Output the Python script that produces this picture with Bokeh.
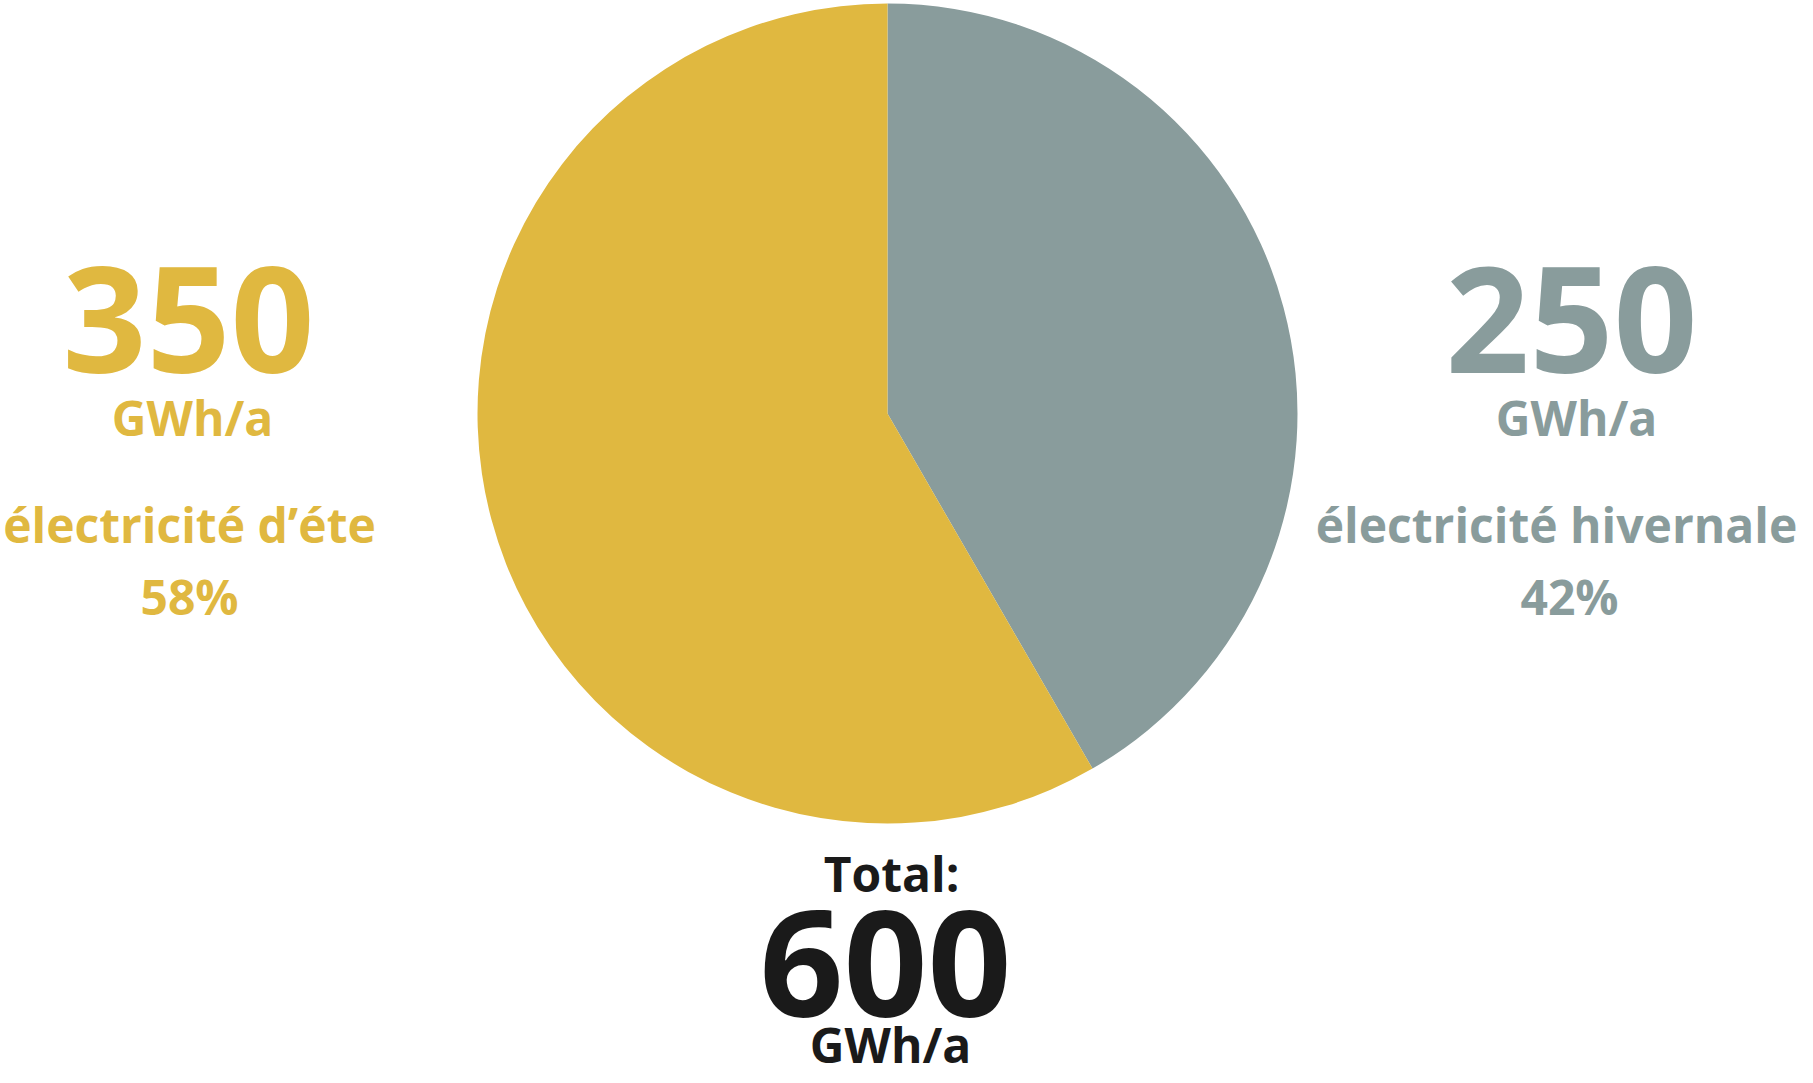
import math
from bokeh.plotting import figure
from bokeh.models import Range1d
from bokeh.core.properties import value
from bokeh.embed import file_html
from bokeh.resources import INLINE

categories = ["électricité hivernale", "électricité d’éte"]
values_gwh = [250, 350]
percent_labels = ["42%", "58%"]
value_labels = ["250", "350"]
unit_label = "GWh/a"
total_title = "Total:"
colors = ["#899C9C", "#E0B840"]

W, H = 1797, 1067
p = figure(width=W, height=H, x_range=Range1d(0, W), y_range=Range1d(0, H),
           output_backend="svg", toolbar_location=None, min_border=0)
p.axis.visible = False
p.grid.visible = False
p.outline_line_color = None
p.background_fill_color = "white"
p.border_fill_color = "white"

def sy(Y):
    return H - Y

cx, cy, r = 887, sy(413), 410
total = sum(values_gwh)
cum = 0.0
starts, ends = [], []
for v in values_gwh:
    a0 = cum / total
    cum += v
    a1 = cum / total
    starts.append(math.radians(90 - a1 * 360))
    ends.append(math.radians(90 - a0 * 360))

p.wedge(x=[cx] * 2, y=[cy] * 2, radius=r, start_angle=starts, end_angle=ends,
        fill_color=colors, line_color=None)

font = value("Open Sans")
K = 0.37  # compensation: renderer centers text vertically on y

def label(X, Y, txt, size, color):
    p.text(x=[X], y=[sy(Y) + K * size], text=[txt], text_font=font,
           text_font_size=f"{size}px", text_font_style="bold", text_color=color,
           text_align="center", text_baseline="alphabetic")

BIG, SMALL = 147, 48
# columns: index 0 = hivernale (right), 1 = été (left)
num_x = [1571, 188]
unit_x = [1576, 192]
cat_x = [1556, 189]
pct_x = [1569, 189]
for i in range(2):
    label(num_x[i], 374, value_labels[i], BIG, colors[i])
    label(unit_x[i], 435, unit_label, SMALL, colors[i])
    label(cat_x[i], 542, categories[i], SMALL, colors[i])
    label(pct_x[i], 614, percent_labels[i], SMALL, colors[i])

label(891, 891, total_title, SMALL, "#1A1A1A")
label(885, 1018, str(total), BIG, "#1A1A1A")
label(890, 1062, unit_label, SMALL, "#1A1A1A")

open("out.html", "w").write(file_html(p, INLINE))
